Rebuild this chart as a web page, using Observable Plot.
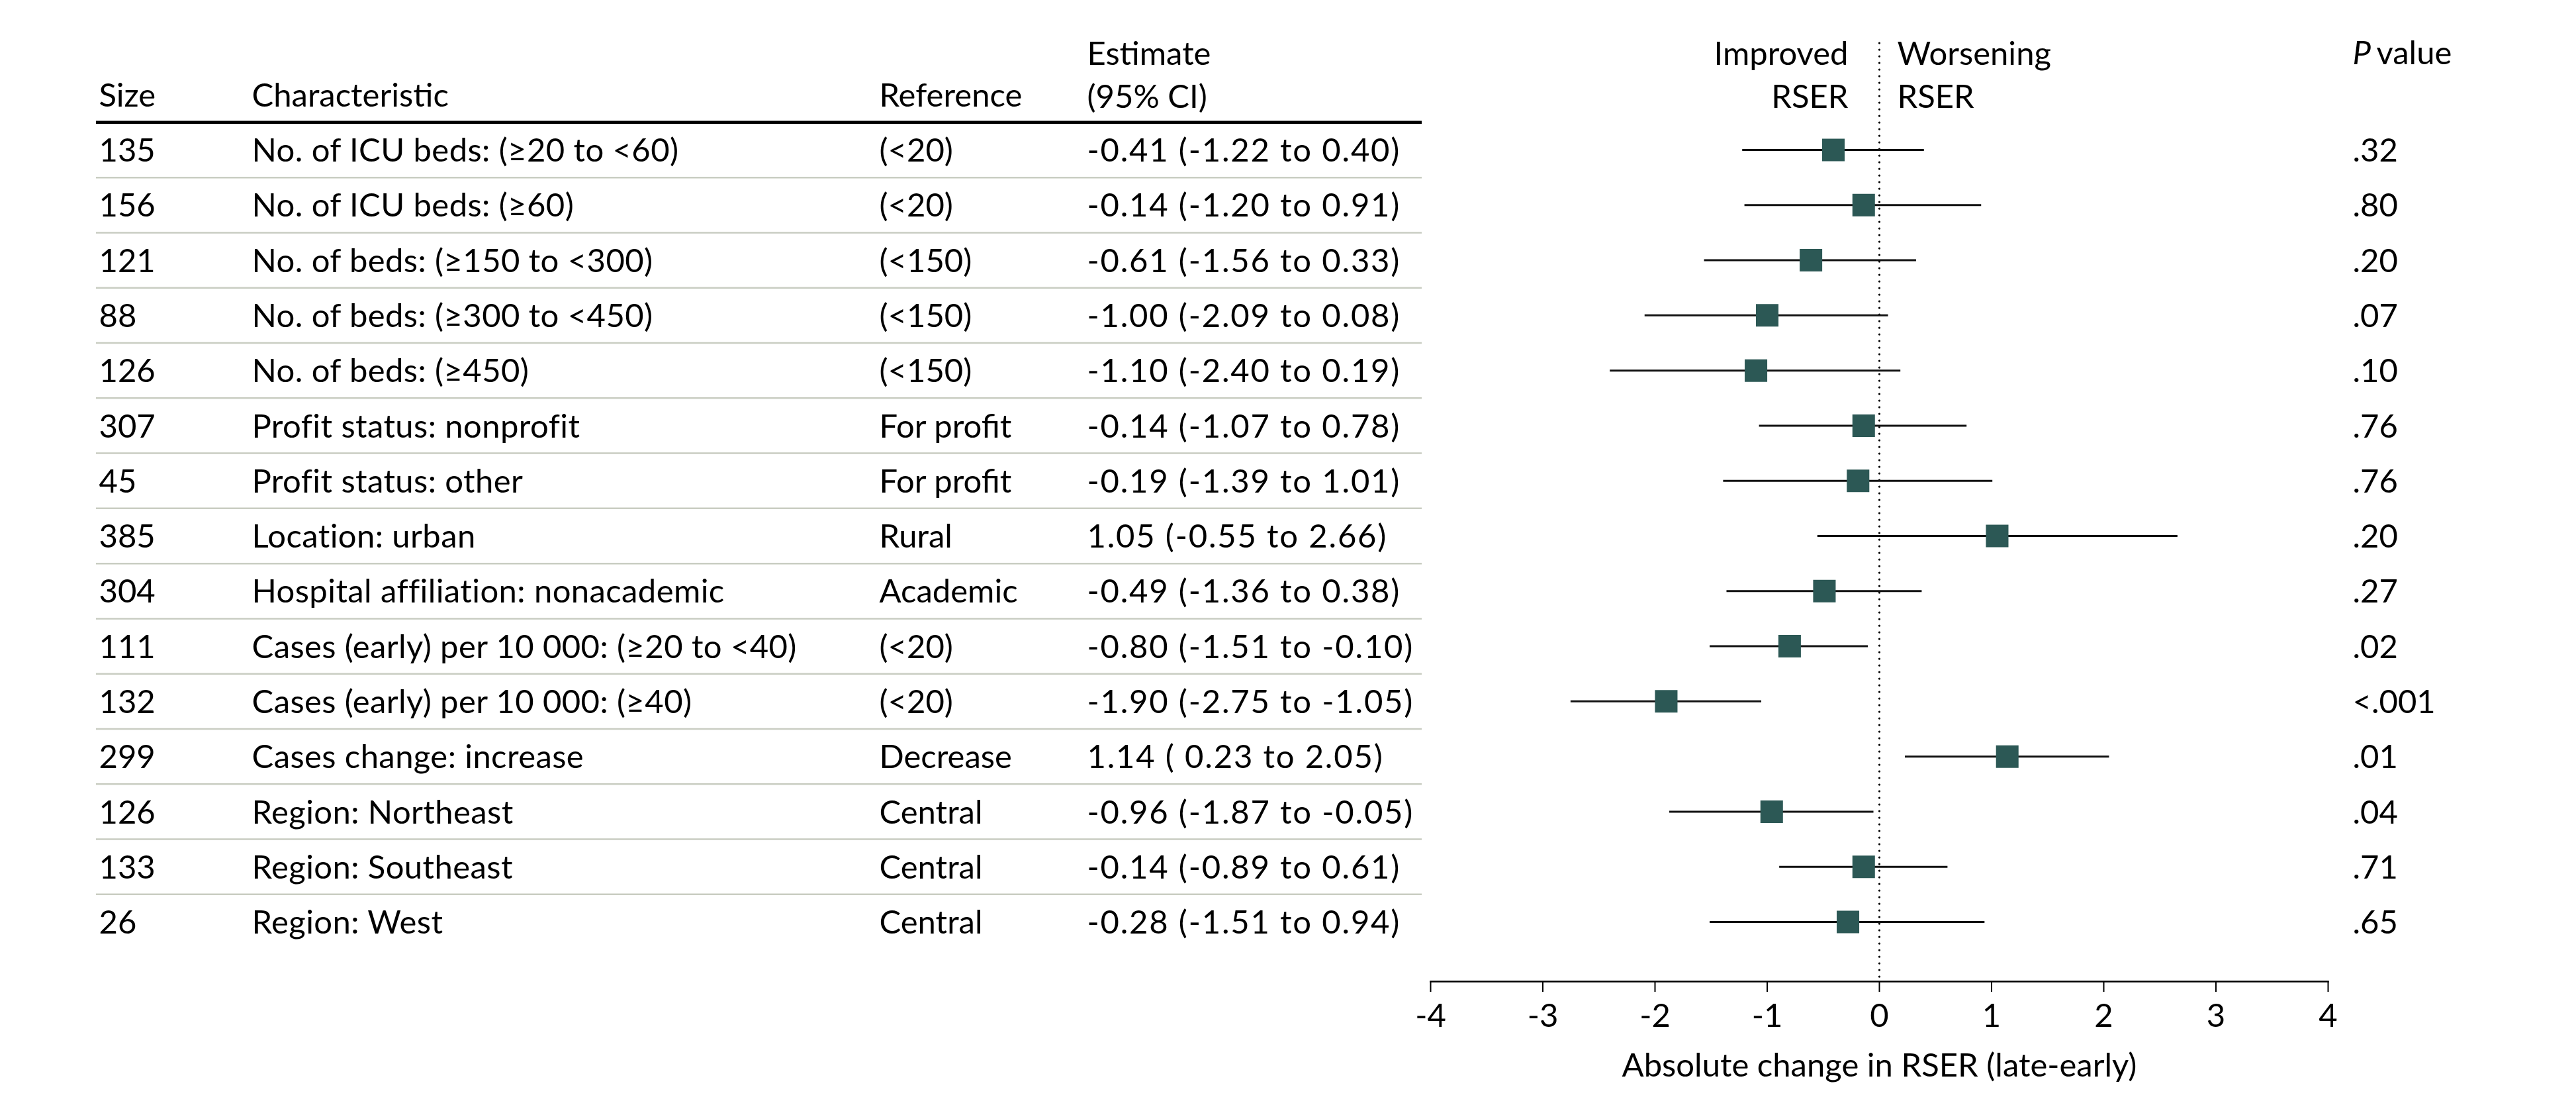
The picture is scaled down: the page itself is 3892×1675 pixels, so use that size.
<!DOCTYPE html>
<html>
<head>
<meta charset="utf-8">
<script src="https://cdn.jsdelivr.net/npm/d3@7"></script>
<script src="https://cdn.jsdelivr.net/npm/@observablehq/plot@0.6"></script>
<style>
  html, body { margin: 0; padding: 0; background: #fff; }
  #chart svg { display: block; }
  g[aria-description="estimate-col"] text { letter-spacing: 1.8px; }
  g[aria-description="characteristic-col"] text { letter-spacing: 0.4px; }
</style>
</head>
<body>
<div id="chart"></div>
<script>
const sizes = [135, 156, 121, 88, 126, 307, 45, 385, 304, 111, 132, 299, 126, 133, 26];
const characteristics = [
  "No. of ICU beds: (≥20 to <60)",
  "No. of ICU beds: (≥60)",
  "No. of beds: (≥150 to <300)",
  "No. of beds: (≥300 to <450)",
  "No. of beds: (≥450)",
  "Profit status: nonprofit",
  "Profit status: other",
  "Location: urban",
  "Hospital affiliation: nonacademic",
  "Cases (early) per 10 000: (≥20 to <40)",
  "Cases (early) per 10 000: (≥40)",
  "Cases change: increase",
  "Region: Northeast",
  "Region: Southeast",
  "Region: West"
];
const references = ["(<20)", "(<20)", "(<150)", "(<150)", "(<150)", "For profit", "For profit", "Rural", "Academic", "(<20)", "(<20)", "Decrease", "Central", "Central", "Central"];
const estimates = [-0.41, -0.14, -0.61, -1.00, -1.10, -0.14, -0.19, 1.05, -0.49, -0.80, -1.90, 1.14, -0.96, -0.14, -0.28];
const lowerCI = [-1.22, -1.20, -1.56, -2.09, -2.40, -1.07, -1.39, -0.55, -1.36, -1.51, -2.75, 0.23, -1.87, -0.89, -1.51];
const upperCI = [0.40, 0.91, 0.33, 0.08, 0.19, 0.78, 1.01, 2.66, 0.38, -0.10, -1.05, 2.05, -0.05, 0.61, 0.94];
const pValues = [".32", ".80", ".20", ".07", ".10", ".76", ".76", ".20", ".27", ".02", "<.001", ".01", ".04", ".71", ".65"];
const xTicks = [-4, -3, -2, -1, 0, 1, 2, 3, 4];
const axisTitle = "Absolute change in RSER (late-early)";

const fmt = v => v.toFixed(2);
const rows = sizes.map((s, i) => ({
  i,
  size: String(s),
  characteristic: characteristics[i],
  reference: references[i],
  est: estimates[i],
  lo: lowerCI[i],
  hi: upperCI[i],
  label: `${fmt(estimates[i])} (${lowerCI[i] >= 0 ? " " : ""}${fmt(lowerCI[i])} to ${fmt(upperCI[i])})`,
  p: pValues[i]
}));
const boundaries = rows.map(d => ({y: d.i - 0.5, thick: d.i === 0}));

const W = 3892, H = 1675;
const xLeft = 2161, xRight = 3517;
const tableLeft = 145, tableRight = 2148;
const FS = 49;
const ink = "#000";
const txt = {frameAnchor: "left", textAnchor: "start", lineAnchor: "middle", dy: 2, fill: ink, fontVariant: "tabular-nums"};
const head = {frameAnchor: "top-left", textAnchor: "start", fill: ink, fontVariant: "tabular-nums"};

const chart = Plot.plot({
  width: W,
  height: H,
  marginTop: 0,
  marginLeft: 0,
  marginRight: 0,
  marginBottom: 193,
  style: {fontFamily: "Lato, 'Open Sans', sans-serif", fontSize: FS + "px", color: ink, background: "#fff", overflow: "visible"},
  x: {domain: [-4, 4], range: [xLeft, xRight]},
  y: {domain: [0, rows.length - 1], range: [226, 1392], axis: null},
  marks: [
    // row separators
    Plot.ruleY(boundaries.filter(d => !d.thick), {y: "y", insetLeft: tableLeft, insetRight: W - tableRight, stroke: "#c9cdc2", strokeWidth: 2.5}),
    Plot.ruleY(boundaries.filter(d => d.thick), {y: "y", insetLeft: tableLeft, insetRight: W - tableRight, stroke: "#000", strokeWidth: 4.5}),
    // null line
    Plot.ruleX([0], {insetTop: 65, stroke: "#000", strokeWidth: 3.2, strokeDasharray: "0.1,9.9", strokeLinecap: "round"}),
    // axis
    Plot.frame({anchor: "bottom", insetLeft: xLeft, insetRight: W - xRight, stroke: "#000", strokeWidth: 2.5}),
    Plot.axisX({ticks: xTicks, tickSize: 16, tickPadding: 18, tickFormat: d => String(d), fontSize: FS, strokeWidth: 2, label: null, fill: ink}),
    Plot.text([axisTitle], {x: [d3.mean(xTicks)], frameAnchor: "bottom", dy: 128, lineAnchor: "middle", textAnchor: "middle", fill: ink}),
    // CIs and estimates
    Plot.ruleY(rows, {y: "i", x1: "lo", x2: "hi", stroke: "#111", strokeWidth: 3}),
    Plot.dot(rows, {x: "est", y: "i", symbol: "square", r: 19.2, fill: "#2c5855", stroke: null}),
    // table columns
    Plot.text(rows, {...txt, y: "i", text: "size", dx: 149}),
    Plot.text(rows, {...txt, y: "i", text: "characteristic", dx: 380, ariaDescription: "characteristic-col"}),
    Plot.text(rows, {...txt, y: "i", text: "reference", dx: 1328}),
    Plot.text(rows, {...txt, y: "i", text: "label", dx: 1642, ariaDescription: "estimate-col"}),
    Plot.text(rows, {...txt, y: "i", text: "p", dx: 3554}),
    // headers
    Plot.text(["Size"], {...head, dx: 149, dy: 126, lineAnchor: "top"}),
    Plot.text(["Characteristic"], {...head, dx: 380, dy: 126, lineAnchor: "top"}),
    Plot.text(["Reference"], {...head, dx: 1328, dy: 126, lineAnchor: "top"}),
    Plot.text(["Estimate\n(95% CI)"], {...head, dx: 1642, dy: 51, lineAnchor: "top", lineHeight: 1.33}),
    Plot.text(["Improved\nRSER"], {...head, dx: 2792, dy: 51, lineAnchor: "top", textAnchor: "end", lineHeight: 1.33}),
    Plot.text(["Worsening\nRSER"], {...head, dx: 2866, dy: 51, lineAnchor: "top", lineHeight: 1.33}),
    Plot.text(["P"], {...head, dx: 3554, dy: 62, lineAnchor: "top", fontStyle: "italic"}),
    Plot.text(["value"], {...head, dx: 3590, dy: 62, lineAnchor: "top"})
  ]
});
document.getElementById("chart").appendChild(chart);
</script>
</body>
</html>
